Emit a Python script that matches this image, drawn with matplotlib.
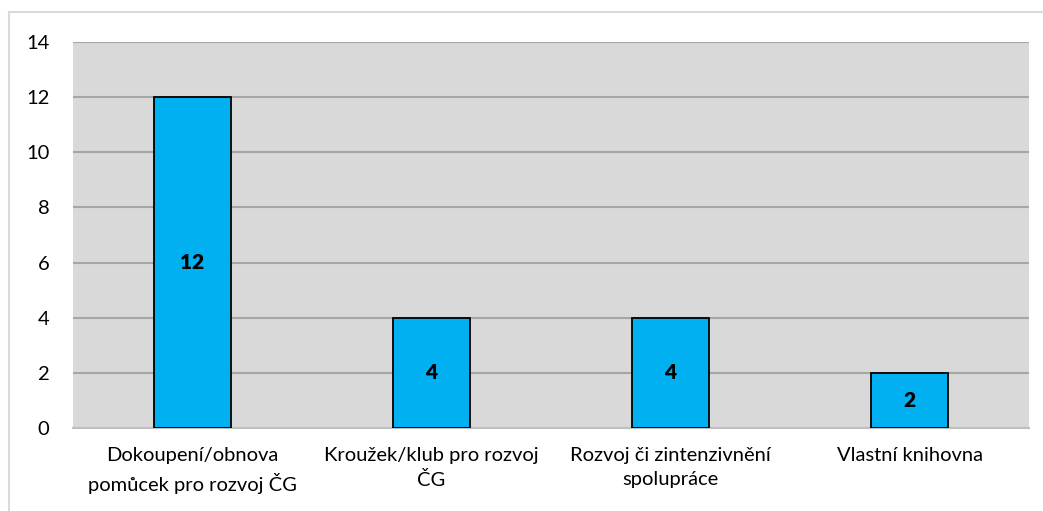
import matplotlib
matplotlib.use("Agg")
from matplotlib import pyplot as plt
from matplotlib.lines import Line2D

# category labels and counts
categories = ["Dokoupení/obnova\npomůcek pro rozvoj ČG",
              "Kroužek/klub pro rozvoj\nČG",
              "Rozvoj či zintenzivnění\nspolupráce",
              "Vlastní knihovna"]
counts = [12, 4, 4, 2]
yticks = [0, 2, 4, 6, 8, 10, 12, 14]

plt.rcParams['font.family'] = ['Lato', 'DejaVu Sans']

fig = plt.figure(figsize=(10.43, 5.11), dpi=100)
ax = fig.add_axes([0.070, 0.1624, 0.9166, 0.7554])

# light frame around the chart area (left and top edges visible)
fig.add_artist(Line2D([8.5 / 1043, 8.5 / 1043], [0, 1 - 12.5 / 511],
                      transform=fig.transFigure, color='#d9d9d9', lw=1.5))
fig.add_artist(Line2D([8.5 / 1043, 1], [1 - 12.5 / 511, 1 - 12.5 / 511],
                      transform=fig.transFigure, color='#d9d9d9', lw=1.5))

x = list(range(len(categories)))
bars = ax.bar(x, counts, width=0.32, color='#00b0f0', edgecolor='black',
              linewidth=1.3, zorder=3)

for b, v in zip(bars, counts):
    ax.text(b.get_x() + b.get_width() / 2, v / 2, str(v), ha='center',
            va='center', fontsize=15, fontweight='heavy', color='black', zorder=4)

ax.set_facecolor('#d9d9d9')
ax.set_xlim(-0.5, len(categories) - 0.5)
ax.set_ylim(0, 14)
ax.set_yticks(yticks)
ax.set_xticks(x)
ax.set_xticklabels(categories, fontsize=14.5, linespacing=1.45)
ax.tick_params(axis='y', length=0, pad=17, labelsize=14.5)
ax.tick_params(axis='x', length=0, pad=14)
ax.yaxis.grid(True, color='#a6a6a6', linewidth=1.5, zorder=1)
ax.set_axisbelow(True)
for s in ['top', 'right', 'left']:
    ax.spines[s].set_visible(False)
ax.spines['bottom'].set_color('#bfbfbf')
ax.spines['bottom'].set_linewidth(1.5)

fig.savefig('out.png', dpi=100)
